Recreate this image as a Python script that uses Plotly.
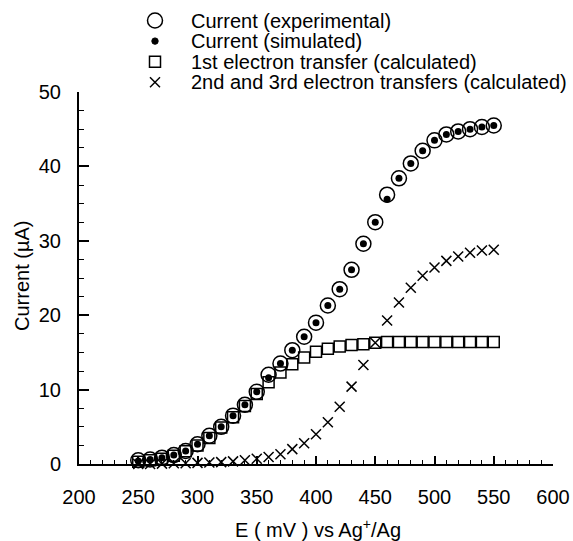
import plotly.graph_objects as go

E = [250, 260, 270, 280, 290, 300, 310, 320, 330, 340, 350, 360, 370, 380, 390, 400,
     410, 420, 430, 440, 450, 460, 470, 480, 490, 500, 510, 520, 530, 540, 550]

current_exp = [0.5, 0.6, 0.85, 1.2, 1.75, 2.65, 3.8, 5.0, 6.5, 7.95, 9.7, 12.0, 13.5, 15.3, 17.1, 19.0,
               21.3, 23.5, 26.1, 29.6, 32.5, 36.2, 38.4, 40.4, 42.1, 43.5, 44.3, 44.7, 45.0, 45.3, 45.5]

current_sim = [0.4, 0.6, 0.85, 1.2, 1.75, 2.65, 3.8, 5.0, 6.5, 7.95, 9.7, 11.6, 13.5, 15.3, 17.1, 19.0,
               21.3, 23.5, 26.1, 29.6, 32.5, 35.6, 38.4, 40.4, 42.1, 43.5, 44.3, 44.7, 45.0, 45.3, 45.5]

first_transfer = [0.3, 0.5, 0.7, 1.1, 1.7, 2.5, 3.5, 4.9, 6.3, 7.8, 9.4, 11.0, 12.3, 13.4, 14.3, 15.1,
                  15.5, 15.8, 16.0, 16.1, 16.3, 16.4, 16.4, 16.4, 16.4, 16.4, 16.4, 16.4, 16.4, 16.4, 16.4]

second_third = [0.0, 0.0, 0.05, 0.1, 0.1, 0.15, 0.2, 0.25, 0.35, 0.5, 0.7, 0.95, 1.3, 2.0, 2.8, 4.0,
                5.6, 7.7, 10.4, 13.3, 16.3, 19.3, 21.7, 23.7, 25.3, 26.4, 27.3, 27.9, 28.4, 28.7, 28.8]

series_names = ["Current (experimental)", "Current (simulated)",
                "1st electron transfer (calculated)", "2nd and 3rd electron transfers (calculated)"]

x_ticks = [200, 250, 300, 350, 400, 450, 500, 550, 600]
y_ticks = [0, 10, 20, 30, 40, 50]

FONT = "Liberation Sans, Arial, Helvetica, sans-serif"
W, H = 573, 541
L, R, T, B = 79, 20, 92, 77
PW, PH = W - L - R, H - T - B


def px(xp):
    return (xp - L) / PW


def py(yp):
    return (H - B - yp) / PH


fig = go.Figure()
fig.add_trace(go.Scatter(x=E, y=current_exp, mode="markers", name=series_names[0], showlegend=False,
                         marker=dict(symbol="circle-open", size=15, color="black", line=dict(width=1.5)),
                         cliponaxis=False))
fig.add_trace(go.Scatter(x=E, y=current_sim, mode="markers", name=series_names[1], showlegend=False,
                         marker=dict(symbol="circle", size=7, color="black"),
                         cliponaxis=False))
fig.add_trace(go.Scatter(x=E, y=first_transfer, mode="markers", name=series_names[2], showlegend=False,
                         marker=dict(symbol="square-open", size=11, color="black", line=dict(width=1.5)),
                         cliponaxis=False))
fig.add_trace(go.Scatter(x=E, y=second_third, mode="markers", name=series_names[3], showlegend=False,
                         marker=dict(symbol="x-thin-open", size=10, color="black", line=dict(width=1.5)),
                         cliponaxis=False))

# manual legend (symbols as pixel-sized shapes, labels as annotations)
sym_x, txt_x = 155, 189
rows = [20.5, 41.1, 61.7, 82.3]
shapes = []
common = dict(xref="paper", yref="paper", xsizemode="pixel", ysizemode="pixel",
              xanchor=px(sym_x))
shapes.append(dict(type="circle", yanchor=py(rows[0]), x0=-7.5, x1=7.5, y0=-7.5, y1=7.5,
                   line=dict(color="black", width=1.5), **common))
shapes.append(dict(type="circle", yanchor=py(rows[1]), x0=-3.2, x1=3.2, y0=-3.2, y1=3.2,
                   fillcolor="black", line=dict(color="black", width=1), **common))
shapes.append(dict(type="rect", yanchor=py(rows[2]), x0=-5.5, x1=5.5, y0=-5.5, y1=5.5,
                   line=dict(color="black", width=1.5), **common))
shapes.append(dict(type="line", yanchor=py(rows[3]), x0=-5, x1=5, y0=-5, y1=5,
                   line=dict(color="black", width=1.5), **common))
shapes.append(dict(type="line", yanchor=py(rows[3]), x0=-5, x1=5, y0=5, y1=-5,
                   line=dict(color="black", width=1.5), **common))

annotations = []
for name, r in zip(series_names, rows):
    annotations.append(dict(text=name, xref="paper", yref="paper", x=px(txt_x), y=py(r),
                            xanchor="left", yanchor="middle", showarrow=False,
                            font=dict(size=20, family=FONT, color="black")))
annotations.append(dict(text="E ( mV ) vs Ag<sup>+</sup>/Ag", xref="paper", yref="paper",
                        x=px(318), y=py(528), xanchor="center", yanchor="middle",
                        showarrow=False, font=dict(size=20, family=FONT, color="black")))
annotations.append(dict(text="Current (µA)", xref="paper", yref="paper", textangle=-90,
                        x=px(22), y=py(276), xanchor="center", yanchor="middle",
                        showarrow=False, font=dict(size=20, family=FONT, color="black")))

fig.update_layout(
    width=W, height=H,
    margin=dict(l=L, r=R, t=T, b=B, autoexpand=False),
    paper_bgcolor="white", plot_bgcolor="white",
    font=dict(family=FONT, size=20, color="black"),
    showlegend=False,
    shapes=shapes,
    annotations=annotations,
)
fig.update_xaxes(range=[200, 600], tickvals=x_ticks, ticks="inside", ticklen=8, tickwidth=1.5,
                 tickcolor="black",
                 showline=True, linecolor="black", linewidth=2, showgrid=False, zeroline=False,
                 ticklabelstandoff=14, tickfont=dict(size=20),
                 minor=dict(dtick=10, ticks="inside", ticklen=4, tickwidth=1, tickcolor="black"))
fig.update_yaxes(range=[0, 50], tickvals=y_ticks, ticks="inside", ticklen=10, tickwidth=1.5,
                 tickcolor="black",
                 showline=True, linecolor="black", linewidth=2, showgrid=False, zeroline=False,
                 ticklabelstandoff=12, tickfont=dict(size=20),
                 minor=dict(dtick=2.5, ticks="inside", ticklen=5, tickwidth=1, tickcolor="black"))

fig.write_html("out.html", config={"displayModeBar": False},
               post_script="document.body.style.margin='0px';document.body.style.overflow='hidden';")
